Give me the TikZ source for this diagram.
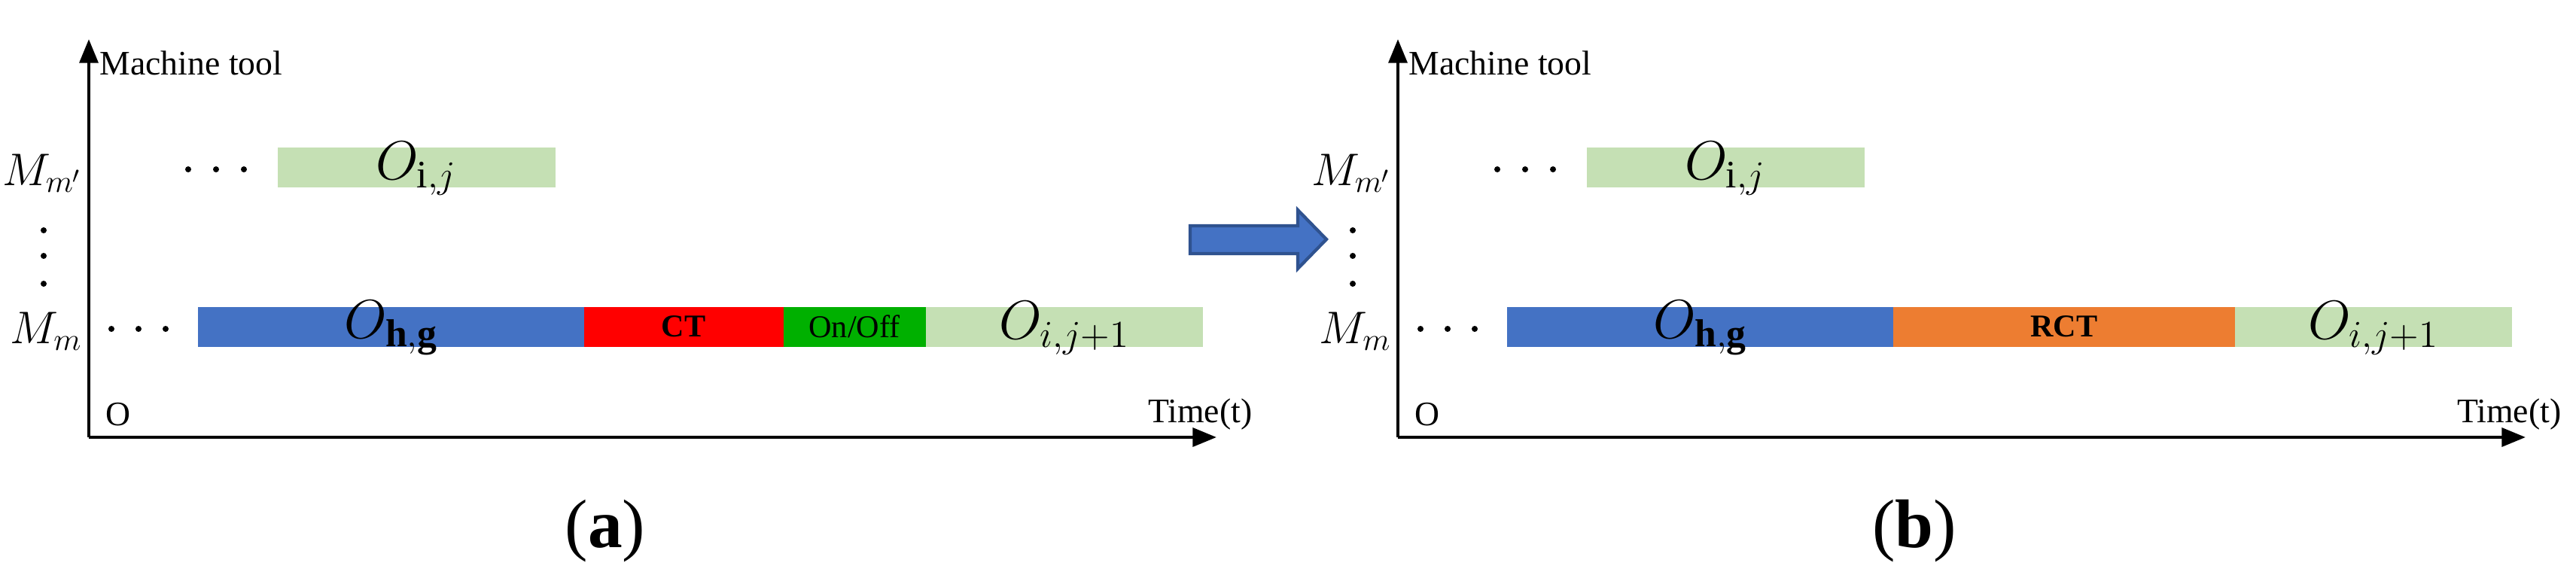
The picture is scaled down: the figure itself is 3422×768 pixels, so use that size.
\documentclass[tikz,border=0pt]{standalone}
\usepackage{fontspec}
\setmainfont{Liberation Serif}
\usetikzlibrary{arrows.meta}
\definecolor{lg}{RGB}{197,224,180}
\definecolor{bl}{RGB}{68,114,196}
\definecolor{rd}{RGB}{255,0,0}
\definecolor{gr}{RGB}{0,176,0}
\definecolor{og}{RGB}{237,125,49}
\definecolor{bd}{RGB}{47,82,143}
\begin{document}
\begin{tikzpicture}[x=0.01cm,y=-0.01cm,
  ax/.style={line width=1.3pt,-{Triangle[length=9pt,width=7pt]}},
  big/.style={font=\fontsize{21}{23}\selectfont},
  lab/.style={font=\fontsize{18}{20}\selectfont,inner sep=0,anchor=east},
  sm/.style={font=\fontsize{13}{15}\selectfont},
  mid/.style={font=\fontsize{12}{14}\selectfont}]
\useasboundingbox (0,0) rectangle (3422,768);
\foreach \dx/\p in {0/a,1739/b}{
\begin{scope}[xshift=\dx*0.01cm]
 \coordinate (o\p) at (118,581);
 \coordinate (yt\p) at (118,52);
 \coordinate (xe\p) at (1616,581);
 \draw[ax] (o\p) -- (yt\p);
 \draw[ax] (o\p) -- (xe\p);
 \node[sm,anchor=west,inner sep=0] (mt\p) at (132,84) {Machine tool};
 \node[sm,anchor=west,inner sep=0] (zero\p) at (140,551) {O};
 \node[sm,anchor=east,inner sep=0] (tt\p) at (1664,551) {Time(t)};
 \node[lab] (mp\p) at (110,230) {$M_{m^{\prime}}$};
 \node[lab] (mm\p) at (110,440) {$M_m$};
 \foreach \yy in {306,340,377} \fill (58,\yy) circle (4);
 \foreach \xx in {250,287,324} \fill (\xx,225) circle (4);
 \foreach \xx in {148,184,220} \fill (\xx,437) circle (4);
 \fill[lg] (369,196) rectangle (738,249);
 \node[big] (oij\p) at (553,224) {$O_{\mathrm{i},j}$};
 \fill[bl] (263,408) rectangle (776,461);
 \node[big] (ohg\p) at (520,436) {$O_{\mathbf{h},\mathbf{g}}$};
 \node[font=\fontsize{26}{28}\selectfont] (cap\p) at (804,706) {(\textbf{\p})};
\end{scope}}
% panel a second row
\fill[rd] (776,408) rectangle (1041,461);
\node[font=\fontsize{12}{14}\selectfont\bfseries] (ct) at (908,434) {CT};
\fill[gr] (1041,408) rectangle (1230,461);
\node[mid] (onoff) at (1135,434) {On/Off};
\fill[lg] (1230,408) rectangle (1598,461);
\node[big] (oj1a) at (1414,436) {$O_{i,j+1}$};
% panel b second row
\fill[og] (2515,408) rectangle (2969,461);
\node[font=\fontsize{12}{14}\selectfont\bfseries] (rct) at (2742,434) {RCT};
\fill[lg] (2969,408) rectangle (3337,461);
\node[big] (oj1b) at (3153,436) {$O_{i,j+1}$};
% big arrow
\draw[bd,fill=bl,line width=1.2pt] (1581,300) -- (1724,300) -- (1724,279) -- (1762,318) -- (1724,357) -- (1724,337) -- (1581,337) -- cycle;
\end{tikzpicture}
\end{document}
